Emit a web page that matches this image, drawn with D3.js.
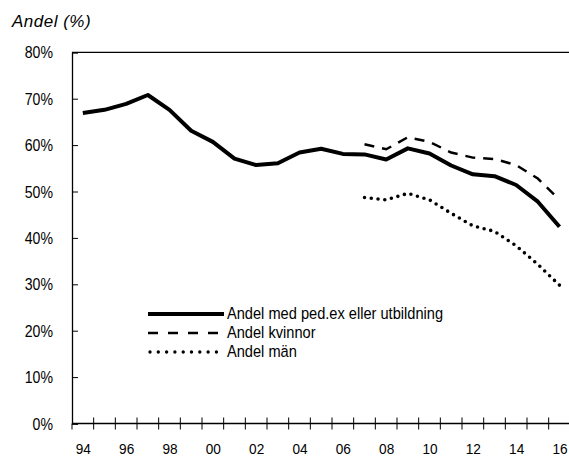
<!DOCTYPE html>
<html lang="sv">
<head>
<meta charset="utf-8">
<title>Andel</title>
<script src="https://cdn.jsdelivr.net/npm/d3@7"></script>
<style>
  html, body { margin: 0; padding: 0; background: #fff; }
  svg text { fill: #000; font-family: "Liberation Sans", Arial, sans-serif; }
</style>
</head>
<body>
<script>
// data
const years = d3.range(1994, 2017);
const tickYears = [1994, 1996, 1998, 2000, 2002, 2004, 2006, 2008, 2010, 2012, 2014, 2016];
const yTicks = [0, 10, 20, 30, 40, 50, 60, 70, 80];

const andelTotal = [66.9, 67.6, 68.9, 70.8, 67.6, 63.1, 60.7, 57.1, 55.7, 56.1, 58.4, 59.2,
                    58.1, 58.0, 56.9, 59.3, 58.2, 55.6, 53.7, 53.3, 51.4, 47.8, 42.4];
const kvinnorYears = d3.range(2007, 2017);
const andelKvinnor = [60.2, 59.1, 61.7, 60.7, 58.4, 57.3, 57.0, 55.7, 52.8, 48.2];
const andelMan = [48.7, 48.2, 49.6, 48.2, 45.3, 42.6, 41.4, 38.3, 34.3, 29.8];

const seriesNames = ["Andel med ped.ex eller utbildning", "Andel kvinnor", "Andel män"];

const w = 569, h = 457;
const padLeft = 72, padTop = 52.3, axisY = 423.5;
const band = 21.667;

let svg = d3.select("body").append("svg")
    .attr("width", w)
    .attr("height", h);

let xScale = d3.scaleBand()
    .domain(years)
    .range([padLeft, padLeft + years.length * band])
    .padding(0);

let yScale = d3.scaleLinear()
    .domain([0, 80])
    .range([axisY, padTop]);

let cx = (yr) => xScale(yr) + xScale.bandwidth() / 2;

// y-axis title
svg.append("text")
    .attr("x", 12)
    .attr("y", 26.5)
    .style("font-style", "italic")
    .style("font-size", "17px")
    .style("letter-spacing", "0.5px")
    .text("Andel (%)");

// top border
svg.append("line")
    .attr("x1", padLeft).attr("x2", w)
    .attr("y1", yScale(80)).attr("y2", yScale(80))
    .attr("stroke", "#000").attr("stroke-width", 1.3);

// y axis
let yAxis = d3.axisRight(yScale)
    .tickValues(yTicks)
    .tickSize(6)
    .tickFormat("");
let gy = svg.append("g")
    .attr("transform", "translate(" + padLeft + ",0)")
    .call(yAxis);
gy.select(".domain").attr("stroke-width", 1.3);
gy.selectAll(".tick line").attr("stroke-width", 1);

// condensed look: horizontally squeezed text
svg.selectAll("text.ylab")
    .data(yTicks)
    .enter()
    .append("text")
    .attr("class", "ylab")
    .attr("transform", (d) => "translate(53," + yScale(d) + ") scale(0.83,1)")
    .attr("dy", "0.36em")
    .attr("text-anchor", "end")
    .style("font-size", "17px")
    .text((d) => d + "%");

// x axis: ticks at band boundaries, labels at band centres
let edges = years.map((d) => xScale(d)).concat([xScale(2016) + xScale.bandwidth()]);
svg.append("line")
    .attr("x1", padLeft).attr("x2", w)
    .attr("y1", axisY).attr("y2", axisY)
    .attr("stroke", "#000").attr("stroke-width", 1.3);
svg.selectAll("line.xtick")
    .data(edges)
    .enter()
    .append("line")
    .attr("class", "xtick")
    .attr("x1", (d) => d).attr("x2", (d) => d)
    .attr("y1", (d, i) => i === 0 ? axisY : axisY - 6)
    .attr("y2", axisY + 6)
    .attr("stroke", "#000").attr("stroke-width", 1);

svg.selectAll("text.xlab")
    .data(tickYears)
    .enter()
    .append("text")
    .attr("class", "xlab")
    .attr("transform", (d) => "translate(" + (cx(d) + 0.5) + ",454) scale(0.88,1)")
    .attr("text-anchor", "middle")
    .style("font-size", "15.5px")
    .text((d) => String(d).slice(2));

// lines
let line = d3.line()
    .x((d) => cx(d[0]))
    .y((d) => yScale(d[1]));

svg.append("path")
    .datum(d3.zip(years, andelTotal))
    .attr("d", line)
    .attr("fill", "none")
    .attr("stroke", "#000")
    .attr("stroke-width", 4)
    .attr("stroke-linejoin", "round");

svg.append("path")
    .datum(d3.zip(kvinnorYears, andelKvinnor))
    .attr("d", line)
    .attr("fill", "none")
    .attr("stroke", "#000")
    .attr("stroke-width", 2.5)
    .attr("stroke-dasharray", "10,8");

svg.append("path")
    .datum(d3.zip(kvinnorYears, andelMan))
    .attr("d", line)
    .attr("fill", "none")
    .attr("stroke", "#000")
    .attr("stroke-width", 3.6)
    .attr("stroke-linecap", "round")
    .attr("stroke-dasharray", "0,6.8");

// legend
let legendStyles = [
    { width: 4, dash: null, cap: "butt" },
    { width: 2.5, dash: "10,10", cap: "butt" },
    { width: 3.4, dash: "0,8.3", cap: "round" }
];
let legend = svg.selectAll("g.legend")
    .data(seriesNames)
    .enter()
    .append("g")
    .attr("class", "legend")
    .attr("transform", (d, i) => "translate(0," + (314 + i * 19) + ")");

legend.append("line")
    .attr("x1", (d, i) => i === 2 ? 150 : 148)
    .attr("x2", (d, i) => i === 2 ? 218 : 224)
    .attr("y1", 0).attr("y2", 0)
    .attr("stroke", "#000")
    .attr("stroke-width", (d, i) => legendStyles[i].width)
    .attr("stroke-linecap", (d, i) => legendStyles[i].cap)
    .attr("stroke-dasharray", (d, i) => legendStyles[i].dash);

legend.append("text")
    .attr("transform", "translate(227,5) scale(0.86,1)")
    .style("font-size", "17px")
    .text((d) => d);
</script>
</body>
</html>
